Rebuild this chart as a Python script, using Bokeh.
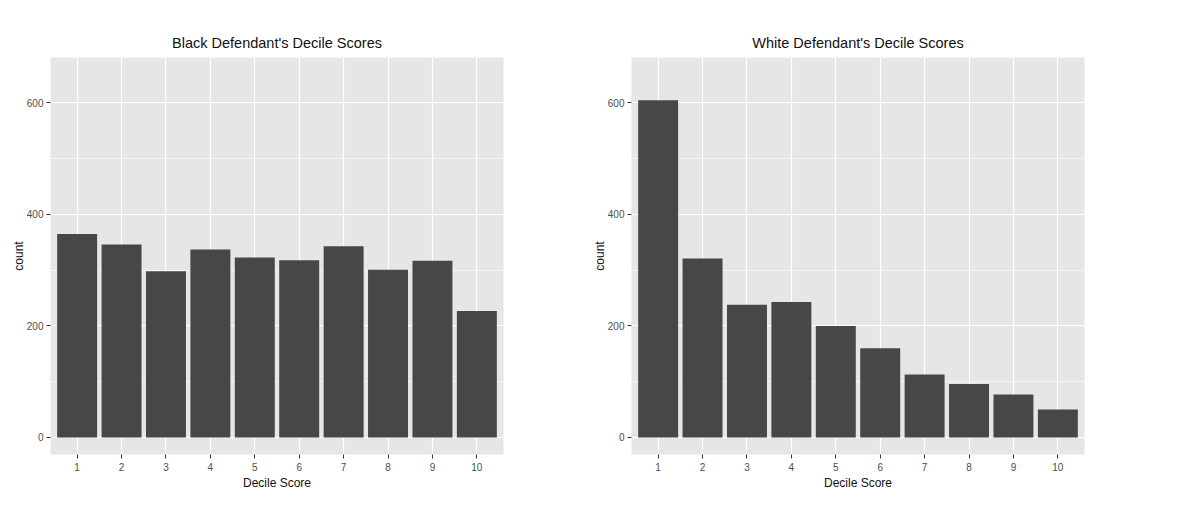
from bokeh.plotting import figure
from bokeh.layouts import row
from bokeh.models import Range1d, FixedTicker, SingleIntervalTicker
from bokeh.embed import file_html
from bokeh.resources import INLINE

deciles = [1, 2, 3, 4, 5, 6, 7, 8, 9, 10]
black_counts = [365, 346, 298, 337, 323, 318, 343, 301, 317, 227]
white_counts = [605, 321, 238, 243, 200, 160, 113, 96, 77, 50]
titles = ["Black Defendant's Decile Scores", "White Defendant's Decile Scores"]
x_label = "Decile Score"
y_label = "count"

FONT = "Liberation Sans"
BG = "#E6E6E6"
BAR = "#474747"


def make(title, counts):
    p = figure(frame_width=453, frame_height=397, output_backend="svg",
               toolbar_location=None,
               x_range=Range1d(0.4, 10.6), y_range=Range1d(-30.5, 681.6),
               min_border_left=50, min_border_right=78, min_border_top=57,
               min_border_bottom=48, background_fill_color=BG,
               border_fill_color="white", outline_line_color=None)
    p.vbar(x=deciles, top=counts, width=0.9, fill_color=BAR, line_color=None)

    p.title.text = title
    p.title.align = "center"
    p.title.text_font = FONT
    p.title.text_font_size = "14.5px"
    p.title.text_font_style = "normal"
    p.title.text_color = "#111111"
    p.title.standoff = 14

    p.xaxis.ticker = FixedTicker(ticks=deciles)
    p.yaxis.ticker = SingleIntervalTicker(interval=200, num_minor_ticks=2)
    for ax in (p.xaxis[0], p.yaxis[0]):
        ax.axis_line_color = None
        ax.major_tick_in = 0
        ax.major_tick_out = 4
        ax.major_tick_line_color = "#333333"
        ax.major_tick_line_width = 1
        ax.minor_tick_line_color = None
        ax.major_label_text_font = FONT
        ax.major_label_text_font_size = "10px"
        ax.major_label_text_color = "#4D4D4D"
        ax.axis_label_text_font = FONT
        ax.axis_label_text_font_size = "12px"
        ax.axis_label_text_font_style = "normal"
        ax.axis_label_text_color = "#111111"
        ax.major_label_standoff = 3
        ax.axis_label_standoff = 2
    p.xaxis.major_label_standoff = 4
    p.yaxis.axis_label_standoff = -2
    p.xaxis.axis_label = x_label
    p.yaxis.axis_label = y_label

    p.xgrid.grid_line_color = "white"
    p.xgrid.grid_line_width = 1.2
    p.ygrid.grid_line_color = "white"
    p.ygrid.grid_line_width = 1.2
    p.ygrid.minor_grid_line_color = "white"
    p.ygrid.minor_grid_line_width = 0.6
    p.ygrid.level = "underlay"
    p.xgrid.level = "underlay"
    return p


p1 = make(titles[0], black_counts)
p2 = make(titles[1], white_counts)
layout = row(p1, p2)

open("out.html", "w").write(file_html(layout, INLINE))
